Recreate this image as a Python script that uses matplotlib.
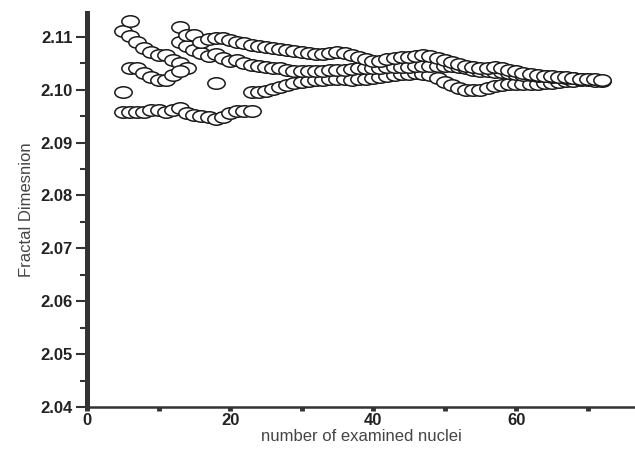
import matplotlib
matplotlib.use('Agg')
import matplotlib.pyplot as plt
from matplotlib.path import Path
from matplotlib.ticker import MultipleLocator

plt.rcParams['font.family'] = ['Liberation Sans', 'DejaVu Sans']

# running estimates, grouped by visible chain
early_upper_x = list(range(5, 15))
early_upper_y = [2.1110, 2.1102, 2.1090, 2.1079, 2.1072, 2.1066, 2.1066, 2.1056, 2.1051, 2.1040]

early_lower_x = list(range(6, 14))
early_lower_y = [2.1041, 2.1040, 2.1032, 2.1024, 2.1019, 2.1019, 2.1028, 2.1035]

top_x = list(range(13, 73))
top_y = [2.1119, 2.1104, 2.1104, 2.1091, 2.1095, 2.1097, 2.1098, 2.1094, 2.1091, 2.1089,
         2.1085, 2.1082, 2.1080, 2.1078, 2.1077, 2.1075, 2.1073, 2.1072, 2.1070, 2.1068,
         2.1068, 2.1070, 2.1072, 2.1070, 2.1066, 2.1062, 2.1058, 2.1055, 2.1055, 2.1058,
         2.1060, 2.1062, 2.1062, 2.1064, 2.1066, 2.1064, 2.1060, 2.1056, 2.1052, 2.1048,
         2.1045, 2.1042, 2.1040, 2.1040, 2.1042, 2.1040, 2.1038, 2.1035, 2.1032, 2.1030,
         2.1028, 2.1026, 2.1025, 2.1024, 2.1023, 2.1022, 2.1021, 2.1020, 2.1020, 2.1019]

mid_x = list(range(13, 71))
mid_y = [2.1090, 2.1082, 2.1075, 2.1070, 2.1063, 2.1068, 2.1060, 2.1055, 2.1056, 2.1051,
         2.1047, 2.1044, 2.1042, 2.1040, 2.1040, 2.1038, 2.1036, 2.1036, 2.1035, 2.1035,
         2.1036, 2.1037, 2.1038, 2.1038, 2.1039, 2.1040, 2.1040, 2.1041, 2.1041, 2.1042,
         2.1042, 2.1043, 2.1043, 2.1044, 2.1044, 2.1045, 2.1045, 2.1045, 2.1044, 2.1042,
         2.1040, 2.1038, 2.1036, 2.1035, 2.1034, 2.1033, 2.1032, 2.1030, 2.1028, 2.1027,
         2.1026, 2.1025, 2.1024, 2.1023, 2.1022, 2.1022, 2.1021, 2.1021]

bottom_x = list(range(5, 24))
bottom_y = [2.0957, 2.0957, 2.0957, 2.0958, 2.0962, 2.0962, 2.0958, 2.0962, 2.0966, 2.0955,
            2.0952, 2.0950, 2.0948, 2.0944, 2.0948, 2.0955, 2.0960, 2.0960, 2.0960]

rising_x = list(range(23, 73))
rising_y = [2.0996, 2.0996, 2.0998, 2.1002, 2.1005, 2.1008, 2.1012, 2.1015, 2.1017, 2.1018,
            2.1018, 2.1020, 2.1020, 2.1020, 2.1019, 2.1020, 2.1021, 2.1022, 2.1024, 2.1026,
            2.1028, 2.1030, 2.1030, 2.1032, 2.1030, 2.1028, 2.1022, 2.1015, 2.1008, 2.1003,
            2.1000, 2.1000, 2.1000, 2.1003, 2.1006, 2.1008, 2.1010, 2.1010, 2.1010, 2.1010,
            2.1010, 2.1012, 2.1013, 2.1015, 2.1016, 2.1017, 2.1018, 2.1018, 2.1017, 2.1016]

single_x = [5, 6, 18]
single_y = [2.0995, 2.1130, 2.1012]

groups = [(early_upper_x, early_upper_y), (early_lower_x, early_lower_y),
          (bottom_x, bottom_y), (rising_x, rising_y), (mid_x, mid_y),
          (top_x, top_y), (single_x, single_y)]

# flattened circle -> ellipse marker
circ = Path.unit_circle()
ellipse = Path(circ.vertices * [1.0, 0.66], circ.codes)

fig = plt.figure(figsize=(6.35, 4.54), dpi=100)
ax = fig.add_axes([0.137, 0.1035, 0.863, 0.868])

for gx, gy in groups:
    ax.plot(gx, gy, linestyle='none', marker=ellipse, markersize=12.5,
            markerfacecolor='white', markeredgecolor='#1a1a1a', markeredgewidth=1.1)

ax.set_xlim(0, 76.6)
ax.set_ylim(2.04, 2.1145)

ax.xaxis.set_major_locator(MultipleLocator(20))
ax.xaxis.set_minor_locator(MultipleLocator(10))
ax.yaxis.set_major_locator(MultipleLocator(0.01))
ax.yaxis.set_minor_locator(MultipleLocator(0.005))
ax.yaxis.set_major_formatter(plt.FormatStrFormatter('%.2f'))

for s in ['top', 'right']:
    ax.spines[s].set_visible(False)
ax.spines['left'].set_linewidth(3.6)
ax.spines['left'].set_color('#333333')
ax.spines['bottom'].set_linewidth(1.8)
ax.spines['bottom'].set_color('#333333')

ax.tick_params(axis='y', which='major', direction='out', length=8, width=1.5,
               color='#333333', labelsize=12, labelcolor='#222222', pad=2)
ax.tick_params(axis='y', which='minor', direction='out', length=5, width=1.5, color='#333333')
ax.tick_params(axis='x', which='both', direction='out', length=3, width=3.5,
               color='#333333', labelsize=12, labelcolor='#222222', pad=1)
for lab in ax.get_xticklabels() + ax.get_yticklabels():
    lab.set_fontweight('bold')

ax.set_xlabel('number of examined nuclei', fontsize=12, color='#444444', labelpad=1)
ax.set_ylabel('Fractal Dimesnion', fontsize=12, color='#444444', labelpad=5)

fig.savefig('out.png', dpi=100)
